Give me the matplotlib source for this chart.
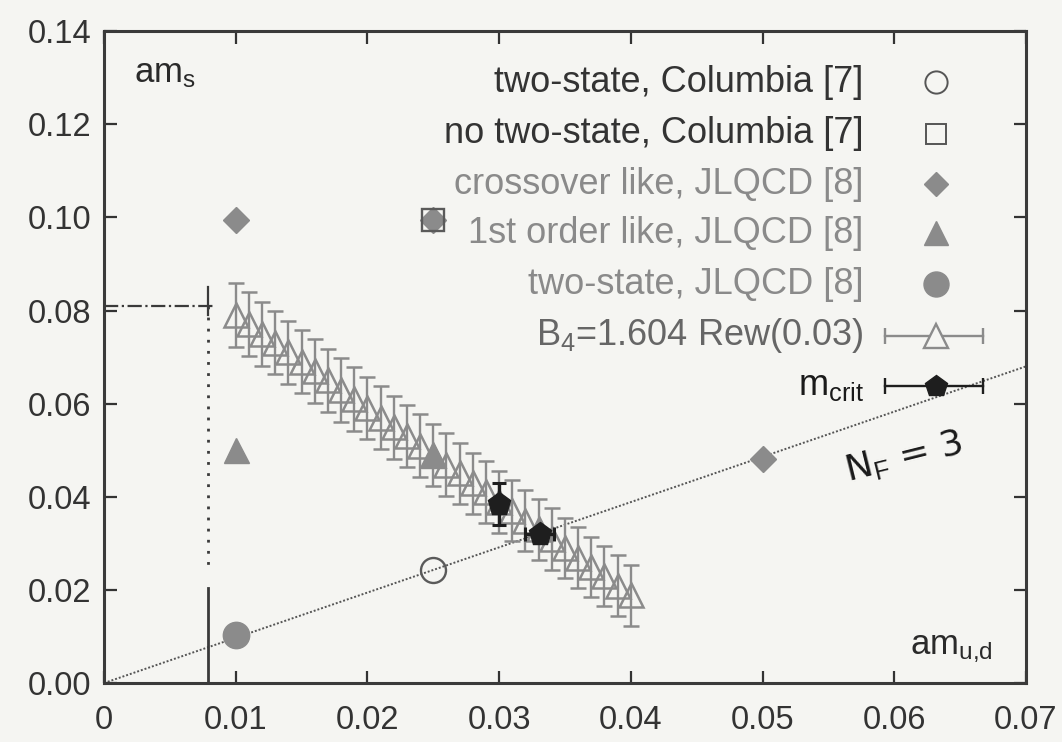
import matplotlib
matplotlib.use("Agg")
import matplotlib.pyplot as plt

plt.rcParams["font.family"] = ["Liberation Sans", "DejaVu Sans"]
plt.rcParams["mathtext.fontset"] = "custom"
plt.rcParams["mathtext.rm"] = "Liberation Sans"
plt.rcParams["mathtext.it"] = "Liberation Sans"

# --- data ---
col_two_x, col_two_y = [0.025], [0.0242]            # two-state, Columbia [7]
col_no_x, col_no_y = [0.025], [0.0995]              # no two-state, Columbia [7]
jl_cross_x, jl_cross_y = [0.010, 0.025, 0.050], [0.0995, 0.0995, 0.0482]
jl_first_x, jl_first_y = [0.010, 0.025], [0.0500, 0.0490]
jl_two_x, jl_two_y = [0.010], [0.0103]

b4_x = [0.010, 0.011, 0.012, 0.013, 0.014, 0.015, 0.016, 0.017, 0.018, 0.019,
        0.020, 0.021, 0.022, 0.023, 0.024, 0.025, 0.026, 0.027, 0.028, 0.029,
        0.030, 0.031, 0.032, 0.033, 0.034, 0.035, 0.036, 0.037, 0.038, 0.039, 0.040]
b4_y = [0.0790, 0.0771, 0.0750, 0.0731, 0.0710, 0.0690, 0.0670, 0.0650, 0.0629, 0.0610,
        0.0590, 0.0570, 0.0549, 0.0530, 0.0510, 0.0490, 0.0469, 0.0450, 0.0429, 0.0410,
        0.0389, 0.0370, 0.0349, 0.0330, 0.0309, 0.0290, 0.0269, 0.0249, 0.0230, 0.0209, 0.0188]
b4_err = [0.0069, 0.0069, 0.0069, 0.0068, 0.0068, 0.0068, 0.0068, 0.0068, 0.0068, 0.0068,
          0.0067, 0.0067, 0.0067, 0.0067, 0.0067, 0.0067, 0.0067, 0.0066, 0.0066, 0.0066,
          0.0066, 0.0066, 0.0066, 0.0066, 0.0066, 0.0065, 0.0065, 0.0065, 0.0065, 0.0065, 0.0065]

mcrit_x, mcrit_y = [0.0300, 0.0331], [0.0385, 0.0320]
mcrit_xerr, mcrit_yerr = [0.0, 0.0011], [0.0045, 0.0]

nf3_x, nf3_y = [0.0, 0.07], [0.0, 0.068]
tric_x, tric_y, tric_err = 0.0079, 0.081, 0.003

GRAY = "#8b8b8b"
BG = "#f5f5f2"

fig = plt.figure(figsize=(10.62, 7.42), dpi=100, facecolor=BG)
ax = fig.add_axes([0.098, 0.0795, 0.868, 0.8785], facecolor=BG)

ax.plot(nf3_x, nf3_y, ls=(0, (1, 1)), color="#555555", lw=1.4, zorder=1)
ax.plot([0, tric_x + 0.0004], [tric_y, tric_y], ls="-.", color="#3a3a3a", lw=1.6, zorder=1)
ax.plot([tric_x, tric_x], [tric_y, 0.024], ls=(0, (1, 3)), color="#3a3a3a", lw=2, zorder=1)
ax.plot([tric_x, tric_x], [tric_y - tric_err + 0.001, tric_y + tric_err + 0.001], color="#3a3a3a", lw=1.6, zorder=1)
ax.plot([tric_x, tric_x], [0, 0.0205], color="#3a3a3a", lw=2, zorder=1)

ax.errorbar(b4_x, b4_y, yerr=b4_err, fmt="^", ms=17, mfc="none", mec=GRAY, mew=1.8,
            ecolor=GRAY, elinewidth=1.7, capsize=6, capthick=1.7, color=GRAY, zorder=3)

ax.plot(jl_cross_x, jl_cross_y, "D", ms=13, color=GRAY, mec=GRAY, zorder=4)
ax.plot(jl_first_x, jl_first_y, "^", ms=18, color=GRAY, mec=GRAY, zorder=4)
ax.plot(jl_two_x, jl_two_y, "o", ms=19, color=GRAY, mec=GRAY, zorder=4)
ax.plot(col_two_x, col_two_y, "o", ms=18, mfc="none", mec="#5a5a5a", mew=1.7, zorder=5)
ax.plot(col_no_x, col_no_y, "s", ms=16, mfc="none", mec="#5a5a5a", mew=1.7, zorder=5)

ax.errorbar(mcrit_x, mcrit_y, xerr=mcrit_xerr, yerr=mcrit_yerr, fmt="p", ms=17,
            color="#1e1e1e", ecolor="#1e1e1e", elinewidth=2.4, capsize=5, capthick=2.2, zorder=6)

# legend (gnuplot style, text right-aligned, sample on the right)
rows = [
    ("two-state, Columbia [7]", "#333333", dict(marker="o", ms=16, mfc="none", mec="#555555", mew=1.4), None),
    ("no two-state, Columbia [7]", "#333333", dict(marker="s", ms=15, mfc="none", mec="#555555", mew=1.4), None),
    ("crossover like, JLQCD [8]", "#8a8a8a", dict(marker="D", ms=12, color=GRAY), None),
    ("1st order like, JLQCD [8]", "#8a8a8a", dict(marker="^", ms=17, color=GRAY), None),
    ("two-state, JLQCD [8]", "#8a8a8a", dict(marker="o", ms=18, color=GRAY), None),
    ("B$_4$=1.604 Rew(0.03)", "#666666", dict(marker="^", ms=17, mfc=BG, mec=GRAY, mew=1.7), GRAY),
    ("m$_{\\rm crit}$", "#1a1a1a", dict(marker="p", ms=16, color="#1e1e1e"), "#1e1e1e"),
]
row_y = [0.922, 0.843, 0.765, 0.690, 0.612, 0.533, 0.456]
for (lab, tc, mk, lc), y in zip(rows, row_y):
    ax.text(0.824, y, lab, transform=ax.transAxes, ha="right", va="center",
            fontsize=26, color=tc)
    if lc is not None:
        ax.plot([0.847, 0.954], [y, y], color=lc, lw=1.7, transform=ax.transAxes, clip_on=False, zorder=6)
        ax.plot([0.847, 0.954], [y, y], ls="none", marker="|", ms=12, mew=1.7, color=lc,
                transform=ax.transAxes, clip_on=False, zorder=6)
    ax.plot([0.902], [y], ls="none", transform=ax.transAxes, clip_on=False, zorder=7, **mk)

ax.text(0.0023, 0.131, "am$_{\\rm s}$", fontsize=25, color="#2a2a2a", va="center")
ax.text(0.0675, 0.0075, "am$_{\\rm u{,}d}$", fontsize=25, color="#2a2a2a", ha="right", va="center")
ax.text(0.0607, 0.0485, "N$_F$ = 3", fontsize=26, color="#1a1a1a", rotation=14,
        ha="center", va="center", family="DejaVu Sans")

ax.set_xlim(0, 0.07)
ax.set_ylim(0, 0.14)
ax.set_xticks([0, 0.01, 0.02, 0.03, 0.04, 0.05, 0.06, 0.07])
ax.set_xticklabels(["0", "0.01", "0.02", "0.03", "0.04", "0.05", "0.06", "0.07"])
ax.set_yticks([0, 0.02, 0.04, 0.06, 0.08, 0.10, 0.12, 0.14])
ax.set_yticklabels(["0.00", "0.02", "0.04", "0.06", "0.08", "0.10", "0.12", "0.14"])
ax.tick_params(direction="in", length=9, width=1.6, top=True, right=True,
               labelsize=23.5, colors="#333333")
ax.tick_params(axis="x", pad=16)
ax.tick_params(axis="y", pad=9)
for s in ax.spines.values():
    s.set_linewidth(2.2)
    s.set_color("#3a3a3a")

fig.savefig("out.png", dpi=100, facecolor=BG)
